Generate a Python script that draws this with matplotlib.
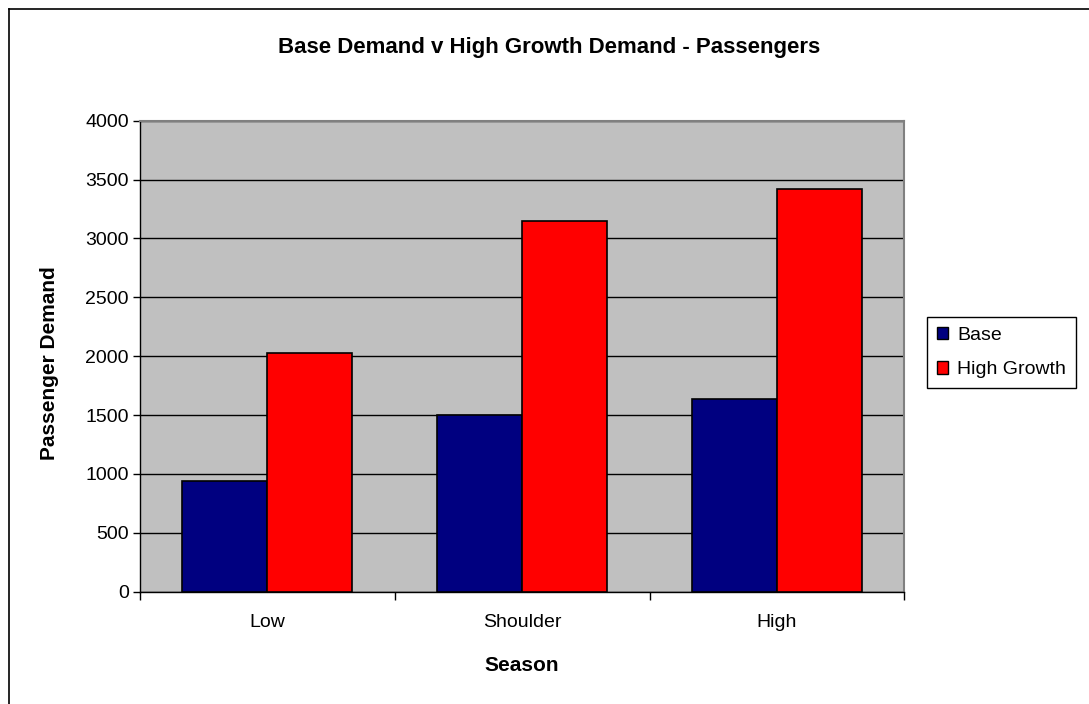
import matplotlib
matplotlib.use("Agg")
import matplotlib.pyplot as plt
import numpy as np
from matplotlib.patches import Rectangle
from matplotlib.lines import Line2D

plt.rcParams['font.family'] = ['Liberation Sans', 'DejaVu Sans']

seasons = ["Low", "Shoulder", "High"]
base = [940, 1500, 1635]
high_growth = [2025, 3145, 3420]
series_names = ["Base", "High Growth"]
series_colors = ["#000080", "#FF0000"]
y_ticks = [0, 500, 1000, 1500, 2000, 2500, 3000, 3500, 4000]

fig = plt.figure(figsize=(10.89, 7.04), dpi=100)
fig.patch.set_facecolor("white")

# outer chart frame (left and top edges)
fig.add_artist(Line2D([9 / 1089, 9 / 1089], [0, 1 - 9 / 704], transform=fig.transFigure,
                      color="black", lw=1.2))
fig.add_artist(Line2D([9 / 1089, 1], [1 - 9 / 704, 1 - 9 / 704], transform=fig.transFigure,
                      color="black", lw=1.2))

ax = fig.add_axes([140 / 1089, (704 - 591.7) / 704, (904.3 - 140) / 1089, (591.7 - 120.7) / 704])
ax.set_facecolor("#C0C0C0")

x = np.arange(len(seasons))
w = 1 / 3
for i, (vals, name, col) in enumerate(zip([base, high_growth], series_names, series_colors)):
    ax.bar(x + (i - 0.5) * w, vals, width=w, color=col, edgecolor="black",
           linewidth=1.2, label=name, zorder=3)

ax.set_xlim(-0.5, len(seasons) - 0.5)
ax.set_ylim(0, 4000)
ax.set_yticks(y_ticks)
ax.set_yticklabels([str(v) for v in y_ticks], fontsize=14)
ax.yaxis.grid(True, color="black", lw=1.0, zorder=1)
ax.set_axisbelow(True)

ax.set_xticks(x)
ax.set_xticklabels(seasons, fontsize=14)
ax.tick_params(axis="x", length=0, pad=16)
ax.set_xticks(np.arange(len(seasons) + 1) - 0.5, minor=True)
ax.tick_params(axis="x", which="minor", length=6, width=1, color="black", direction="out")
ax.tick_params(axis="y", length=5, width=1, color="black", direction="out", pad=3)

for side in ["top", "right"]:
    ax.spines[side].set_color("#808080")
    ax.spines[side].set_linewidth(1.5)
for side in ["left", "bottom"]:
    ax.spines[side].set_color("black")
    ax.spines[side].set_linewidth(1.0)

ax.set_xlabel("Season", fontsize=15, fontweight="bold")
ax.xaxis.set_label_coords(0.5, -0.136)
ax.set_ylabel("Passenger Demand", fontsize=15, fontweight="bold")
ax.yaxis.set_label_coords(-0.106, 0.486)

fig.text(549 / 1089, 1 - 47 / 704, "Base Demand v High Growth Demand - Passengers",
         ha="center", va="center", fontsize=16, fontweight="bold")

leg = fig.legend(handles=[Rectangle((0, 0), 1, 1, facecolor=c, edgecolor="black", lw=1)
                          for c in series_colors],
                 labels=series_names, loc="upper left",
                 bbox_to_anchor=(927 / 1089, 1 - 317 / 704), fontsize=14,
                 frameon=True, fancybox=False, framealpha=1, edgecolor="black",
                 handlelength=0.6, handleheight=0.6, handletextpad=0.45,
                 labelspacing=0.9, borderpad=0.5, borderaxespad=0)
leg.get_frame().set_linewidth(1.0)

fig.savefig("out.png", dpi=100, facecolor="white")
